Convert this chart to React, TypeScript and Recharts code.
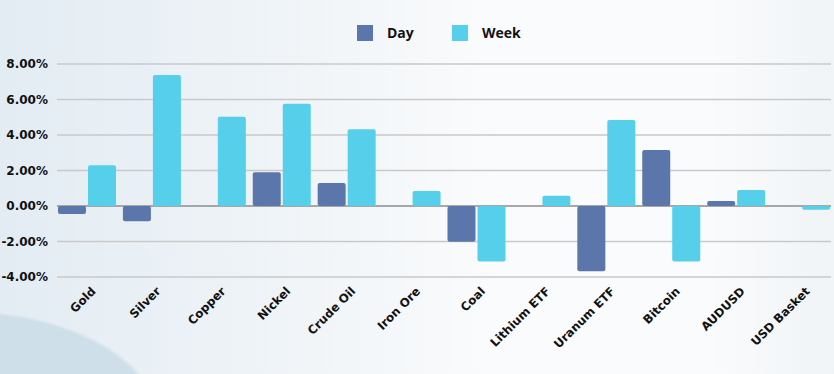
import React from "react";
import { BarChart, Bar, XAxis, YAxis, CartesianGrid, Legend } from "recharts";

const categories = ["Gold", "Silver", "Copper", "Nickel", "Crude Oil", "Iron Ore", "Coal", "Lithium ETF", "Uranum ETF", "Bitcoin", "AUDUSD", "USD Basket"];
const dayValues = [-0.45, -0.86, 0, 1.9, 1.3, 0, -2.01, 0, -3.68, 3.15, 0.28, 0];
const weekValues = [2.29, 7.38, 5.03, 5.76, 4.32, 0.85, -3.12, 0.58, 4.85, -3.12, 0.9, -0.21];
const yTicks = [-4, -2, 0, 2, 4, 6, 8];
const seriesNames = ["Day", "Week"];

const DAY_COLOR = "#5b76aa";
const WEEK_COLOR = "#55cfea";
const FONT = "'Open Sans', sans-serif";
const WIDE = "'DejaVu Sans', sans-serif";

const data = categories.map((name, i) => ({ name, day: dayValues[i], week: weekValues[i] }));

const XTick = (props: any) => {
  const { x, y, payload } = props;
  const tx = x + 9;
  const ty = y + 7;
  return (
    <text
      x={tx}
      y={ty}
      transform={`rotate(-45, ${tx}, ${ty})`}
      textAnchor="end"
      fontFamily={WIDE}
      fontWeight={700}
      fontSize={11.8}
      fill="#111"
    >
      {payload.value}
    </text>
  );
};

const LegendContent = () => {
  const items = [
    { label: seriesNames[0], color: DAY_COLOR, sq: 357, tx: 387 },
    { label: seriesNames[1], color: WEEK_COLOR, sq: 452, tx: 482 },
  ];
  return (
    <div style={{ position: "relative", width: 834, height: 50 }}>
      {items.map((it) => (
        <React.Fragment key={it.label}>
          <div style={{ position: "absolute", left: it.sq, top: 25, width: 16, height: 16, background: it.color }} />
          <div
            style={{
              position: "absolute",
              left: it.tx,
              top: 23,
              fontFamily: FONT,
              fontWeight: 700,
              fontSize: 14,
              lineHeight: "20px",
              color: "#111",
            }}
          >
            {it.label}
          </div>
        </React.Fragment>
      ))}
    </div>
  );
};

export default function App() {
  return (
    <div
      style={{
        position: "absolute",
        left: 0,
        top: 0,
        width: 834,
        height: 374,
        overflow: "hidden",
        background:
          "radial-gradient(ellipse 200px 110px at -40px 420px, #cfdfea 97%, rgba(207,223,234,0) 100%), linear-gradient(90deg, #e3ecf3 0%, #eef3f7 30%, #fafbfc 60%, #fafbfc 85%, #f0f4f7 100%)",
      }}
    >
      <BarChart
        width={834}
        height={374}
        data={data}
        margin={{ top: 64, right: 0, bottom: 0, left: 0 }}
        barSize={28}
        barGap={2}
      >
        <CartesianGrid x={57} width={774} vertical={false} stroke="#c9c9c9" strokeWidth={1.5} />
        <CartesianGrid x={57} width={774} vertical={false} horizontalValues={[0]} stroke="#7a7a7a" strokeWidth={1.2} />
        <XAxis
          dataKey="name"
          height={97}
          axisLine={false}
          tickLine={false}
          interval={0}
          tick={<XTick />}
        />
        <YAxis
          width={55}
          domain={[-4, 8]}
          ticks={yTicks}
          axisLine={false}
          tickLine={false}
          tickSize={5}
          tickMargin={2}
          tickFormatter={(v: number) => `${v.toFixed(2)}%`}
          tick={{ fontFamily: WIDE, fontWeight: 700, fontSize: 12, fill: "#111" }}
        />
        <Legend
          verticalAlign="middle"
          layout="horizontal"
          wrapperStyle={{ top: 0, left: 0, width: 834, height: 50 }}
          content={<LegendContent />}
        />
        <Bar dataKey="day" name={seriesNames[0]} fill={DAY_COLOR} radius={2} isAnimationActive={false} />
        <Bar dataKey="week" name={seriesNames[1]} fill={WEEK_COLOR} radius={2} isAnimationActive={false} />
      </BarChart>
    </div>
  );
}
